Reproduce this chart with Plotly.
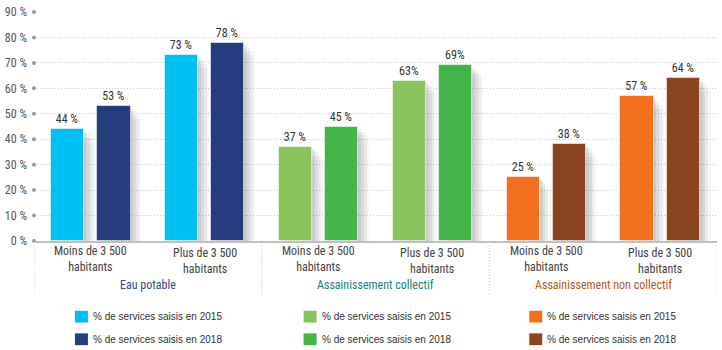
import plotly.graph_objects as go

# Data
categories = ["Moins de 3 500<br>habitants", "Plus de 3 500<br>habitants"] * 3
groups = ["Eau potable", "Assainissement collectif", "Assainissement non collectif"]
values_2015 = [44, 73, 37, 63, 25, 57]
values_2018 = [53, 78, 45, 69, 38, 64]
labels_2015 = ["44 %", "73 %", "37 %", "63%", "25 %", "57 %"]
labels_2018 = ["53 %", "78 %", "45 %", "69%", "38 %", "64 %"]
legend_labels = ["% de services saisis en 2015", "% de services saisis en 2018"]
y_ticks = [0, 10, 20, 30, 40, 50, 60, 70, 80, 90]
y_tick_labels = ["0 %", "10 %", "20 %", "30 %", "40 %", "50 %", "60 %", "70 %", "80 %", "90 %"]

# Styling
colors_2015 = ["#00C0F3", "#00C0F3", "#8AC35A", "#8AC35A", "#F37021", "#F37021"]
colors_2018 = ["#253C7D", "#253C7D", "#44B549", "#44B549", "#8B4420", "#8B4420"]
group_colors = ["#2E4A8E", "#1B7F79", "#B3571E"]
NARROW = "Roboto Condensed, Liberation Sans Narrow, Arial Narrow, sans-serif"
REGULAR = "Liberation Sans, Arial, sans-serif"

W, H = 722, 350
ML, MR, MT, MB = 33, 5, 8, 109
PW, PH = W - ML - MR, H - MT - MB


def px_x(px):
    return (px - ML) / PW


def px_y(py):
    return (H - MB - py) / PH


n = len(values_2015)
idx = list(range(n))
off, bw = 0.203, 0.291
x_left = [i - off for i in idx]
x_right = [i + off for i in idx]

fig = go.Figure()

# soft drop shadows behind bars
for dx, dy, a in [(0.025, 1.0, 0.07), (0.05, 2.0, 0.06), (0.075, 3.5, 0.05), (0.095, 5.0, 0.03)]:
    for xs, vals in ((x_left, values_2015), (x_right, values_2018)):
        fig.add_trace(go.Bar(
            x=[x + dx for x in xs], y=[v - dy for v in vals], width=bw,
            marker=dict(color=f"rgba(0,0,0,{a})", line=dict(width=0)),
            hoverinfo="skip", showlegend=False,
        ))

fig.add_trace(go.Bar(
    x=x_left, y=values_2015, width=bw, text=labels_2015, textposition="outside",
    textfont=dict(family=NARROW, size=12, color="#333"),
    marker=dict(color=colors_2015, line=dict(color="rgba(255,255,255,0.55)", width=1)),
    cliponaxis=False, showlegend=False, name=legend_labels[0],
))
fig.add_trace(go.Bar(
    x=x_right, y=values_2018, width=bw, text=labels_2018, textposition="outside",
    textfont=dict(family=NARROW, size=12, color="#333"),
    marker=dict(color=colors_2018, line=dict(color="rgba(255,255,255,0.55)", width=1)),
    cliponaxis=False, showlegend=False, name=legend_labels[1],
))

# dots on the value axis
fig.add_trace(go.Scatter(
    x=[-0.5] * len(y_ticks), y=y_ticks, mode="markers",
    marker=dict(size=4, color="#9a9a9a"), cliponaxis=False,
    hoverinfo="skip", showlegend=False,
))

shapes = []
annotations = []

# category labels
for i, c in enumerate(categories):
    cy = 259.5 if i % 2 == 0 else 261.5
    annotations.append(dict(
        x=i, y=px_y(cy), xref="x", yref="paper", text=c, showarrow=False,
        xanchor="center", yanchor="middle",
        font=dict(family=NARROW, size=12, color="#444"),
    ))

# group labels and separators
for g, (name, col) in enumerate(zip(groups, group_colors)):
    annotations.append(dict(
        x=2 * g + 0.5, y=px_y(286), xref="x", yref="paper", text=name, showarrow=False,
        xanchor="center", yanchor="middle", font=dict(family=NARROW, size=12, color=col),
    ))
for xb in [-0.5, 1.5, 3.5, 5.5]:
    shapes.append(dict(
        type="line", xref="x", yref="paper", x0=xb, x1=xb,
        y0=px_y(245), y1=px_y(295), line=dict(color="#bbbbbb", width=1, dash="1px,2px"),
    ))

# legend: three columns, two rows
col_x = [74, 303, 529]
row_y = [318, 341]
for g in range(3):
    for r, (cols, lab) in enumerate(((colors_2015, legend_labels[0]), (colors_2018, legend_labels[1]))):
        x0 = col_x[g]
        yc = row_y[r]
        shapes.append(dict(
            type="rect", xref="paper", yref="paper",
            x0=px_x(x0), x1=px_x(x0 + 13), y0=px_y(yc + 6), y1=px_y(yc - 6),
            fillcolor=cols[2 * g], line=dict(width=0),
        ))
        annotations.append(dict(
            x=px_x(x0 + 16), y=px_y(yc), xref="paper", yref="paper", text=lab,
            showarrow=False, xanchor="left", yanchor="middle",
            font=dict(family=REGULAR, size=10, color="#333"),
        ))

fig.update_layout(
    width=W, height=H, margin=dict(l=ML, r=MR, t=MT, b=MB),
    paper_bgcolor="white", plot_bgcolor="white",
    barmode="overlay", bargap=0, showlegend=False,
    shapes=shapes, annotations=annotations,
    xaxis=dict(range=[-0.5, 5.5], showticklabels=False, showgrid=False, zeroline=False,
               showline=True, linecolor="#c0c0c0", linewidth=2, fixedrange=True),
    yaxis=dict(range=[0, 90], tickvals=y_ticks, ticktext=y_tick_labels, showline=False,
               zeroline=False, showgrid=True, gridcolor="#c8c8c8", gridwidth=1,
               griddash="1px,2px", ticks="", ticklabelstandoff=6,
               tickfont=dict(family=NARROW, size=12, color="#555"), fixedrange=True),
)

fig.write_html("out.html")
